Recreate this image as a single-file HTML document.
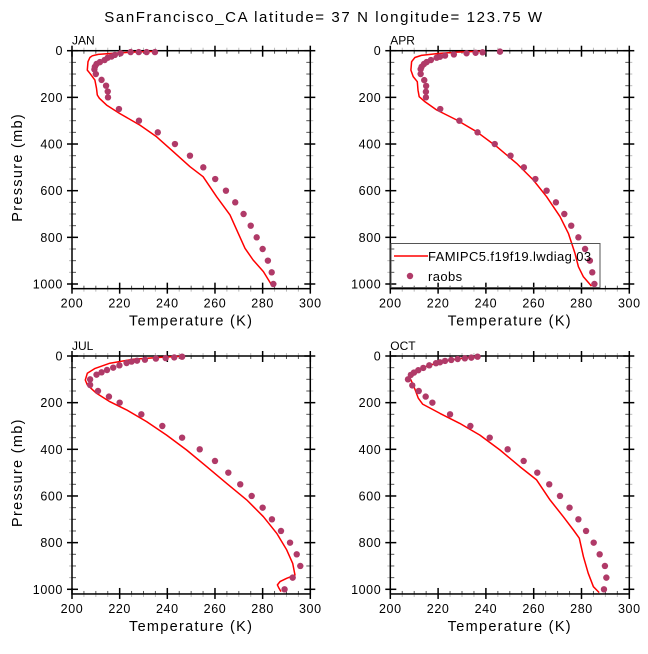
<!DOCTYPE html>
<html><head><meta charset="utf-8"><style>
html,body{margin:0;padding:0;background:#fff;}
svg text{font-family:"Liberation Sans","DejaVu Sans",sans-serif;fill:#000;}
</style></head><body>
<svg id="fig" width="648" height="649" viewBox="0 0 648 649" xmlns="http://www.w3.org/2000/svg">
<text x="324" y="22" text-anchor="middle" font-size="15" letter-spacing="1.6">SanFrancisco_CA  latitude= 37 N longitude= 123.75 W</text>
</svg>
<script>
const xTicks = [200, 220, 240, 260, 280, 300];
const yTicks = [0, 200, 400, 600, 800, 1000];
const months = ["JAN", "APR", "JUL", "OCT"];
const seriesNames = ["FAMIPC5.f19f19.lwdiag.03", "raobs"];

const janObsP = [6,6,6,6,11,18,25,30,40,49,57,69,80,100,125,150,175,200,250,300,350,400,450,500,550,600,650,700,750,800,850,900,950,1000];
const janObsT = [234.8,231.3,228,224.6,220.4,218,216.6,215,213.7,211.7,210.3,209.6,209.4,210,212.4,214.3,215,215.1,219.7,228.1,236,243.2,249.5,255.1,260.1,264.6,268.5,272,275,277.5,280,282.2,283.8,284.5];
const janModP = [3,5,8,12,16,22,29,47,83,97,126,161,190,204,233,269,319,369,433,497,540,626,704,783,847,897,947,1011];
const janModT = [235,228,222,216,211,208.5,207.5,206.7,206.4,207.5,209.6,210.3,210.6,211.5,214.5,220,228.5,235.5,242.5,249.5,255,260.7,266.3,269.8,272.6,276,280.3,284.2];

const aprObsP = [4,7,9,11,16,21,26,30,40,49,57,69,79,100,126,151,176,200,250,300,350,400,450,500,550,600,650,700,750,800,850,900,950,1000];
const aprObsT = [245.9,238.6,235.7,231.9,226.6,222.9,220.8,219.4,217,215.2,214.1,213.1,212.7,212.7,214.2,215,214.9,214.9,220.9,228.9,236.5,243.7,250.3,255.9,260.7,265.4,269.3,272.8,275.7,278.7,281.5,283.5,284.5,285.4];
const aprModP = [2,6,12,20,29,47,83,111,133,169,197,219,254,297,347,411,483,554,626,711,783,869,926,969,1009];
const aprModT = [238,228,220,213,210.3,208.9,208.6,209.6,211.3,211.6,212.1,214.5,219.4,227.8,236.1,244.5,252.9,259.8,265.4,271,274.5,277.3,278.7,280.8,284.2];

const julObsP = [3,6,9,11,16,20,24,30,40,50,60,70,80,100,124,150,174,200,250,300,350,400,450,500,550,600,650,700,750,800,850,900,950,1000];
const julObsT = [246.2,242.9,239.3,235.2,230.6,227.3,225,222.9,219.9,217.3,214.7,212.4,210.3,207.6,207.6,210.9,215.5,220,229.1,237.9,246.2,253.6,260,265.6,270.6,275.4,280,283.9,287.7,291.5,294.3,295.8,292.6,289.2];
const julModP = [1,6,14,31,53,74,103,124,160,196,231,281,339,403,474,546,617,689,760,831,889,939,953,967,981,996,1010];
const julModT = [246,236.9,225.7,215.9,209.7,206.4,205.6,206.4,210.3,215.9,222.9,231.3,239.7,248.1,256.5,264.9,273.3,280.3,285.9,290.1,292.6,293.6,290.1,287.3,286.2,286.9,287.7];

const octObsP = [3,7,10,13,17,21,27,31,40,51,61,71,81,100,126,150,174,200,250,300,350,400,450,500,550,600,650,700,750,800,850,900,950,1000];
const octObsT = [236.5,233.9,231.2,228.2,225.5,222.9,220.8,219.1,216.3,213.8,211.7,209.9,208.6,207.4,209.2,211.9,214.8,217.6,225,233.5,241.6,249.1,255.8,261.5,266.5,271,275,278.7,281.9,285.1,287.6,289.8,290.4,289.4];
const octModP = [3,9,20,39,60,74,93,124,153,181,206,246,289,339,403,474,531,617,689,746,781,860,931,989,1014];
const octModT = [235.4,230.5,223.6,216.6,211,208.9,208.2,209.6,210.7,211.7,213.5,220.8,229.1,237.5,245.9,254.2,261.2,266.8,272.4,276.6,279.1,280.8,282.8,285,287.4];

const obsP = [janObsP, aprObsP, julObsP, octObsP];
const obsT = [janObsT, aprObsT, julObsT, octObsT];
const modP = [janModP, aprModP, julModP, octModP];
const modT = [janModT, aprModT, julModT, octModT];

const NS = "http://www.w3.org/2000/svg";
const svg = document.getElementById("fig");
const panels = [
  {x0:72, x1:310.3, y0:50.7, y1:284, ylab:true},
  {x0:390.3, x1:629.3, y0:50.7, y1:284, ylab:false},
  {x0:72, x1:310.3, y0:356, y1:589.3, ylab:true},
  {x0:390.3, x1:629.3, y0:356, y1:589.3, ylab:false}
];
function mk(tag, attrs, parent){
  const e = document.createElementNS(NS, tag);
  for (const k in attrs) e.setAttribute(k, attrs[k]);
  (parent || svg).appendChild(e);
  return e;
}
panels.forEach((pn, i) => {
  const xS = t => pn.x0 + (t - 200) / 100 * (pn.x1 - pn.x0);
  const yS = p => pn.y0 + p / 1000 * (pn.y1 - pn.y0);
  const g = mk("g", {});
  
  
  const bottom = yS(1020);
  for (let p = 50; p < 1020; p += 50) {
    if (p % 200 === 0) continue;
    mk("line", {x1:pn.x0, x2:pn.x0+4, y1:yS(p), y2:yS(p), stroke:"#555", "stroke-width":1}, g);
    mk("line", {x1:pn.x1, x2:pn.x1-4, y1:yS(p), y2:yS(p), stroke:"#555", "stroke-width":1}, g);
    mk("line", {x1:pn.x0, x2:pn.x0-3, y1:yS(p), y2:yS(p), stroke:"#bbb", "stroke-width":1}, g);
    mk("line", {x1:pn.x1, x2:pn.x1+3, y1:yS(p), y2:yS(p), stroke:"#bbb", "stroke-width":1}, g);
  }
  for (let t = 205; t < 300; t += 5) {
    if (t % 20 === 0) continue;
    mk("line", {x1:xS(t), x2:xS(t), y1:pn.y0, y2:pn.y0+3, stroke:"#555", "stroke-width":1}, g);
    mk("line", {x1:xS(t), x2:xS(t), y1:bottom, y2:bottom-3, stroke:"#555", "stroke-width":1}, g);
    mk("line", {x1:xS(t), x2:xS(t), y1:pn.y0, y2:pn.y0-3, stroke:"#bbb", "stroke-width":1}, g);
    mk("line", {x1:xS(t), x2:xS(t), y1:bottom, y2:bottom+3, stroke:"#bbb", "stroke-width":1}, g);
  }
  const box = mk("rect", {x:pn.x0, y:pn.y0, width:pn.x1-pn.x0, height:bottom-pn.y0, fill:"none", stroke:"#000", "stroke-width":1.5}, g);
  
  
  yTicks.forEach(p => {
    mk("line", {x1:pn.x0-5, x2:pn.x0+6, y1:yS(p), y2:yS(p), stroke:"#000", "stroke-width":1.5}, g);
    mk("line", {x1:pn.x1-6, x2:pn.x1+5, y1:yS(p), y2:yS(p), stroke:"#000", "stroke-width":1.5}, g);
    const tl = mk("text", {x:pn.x0-9, y:yS(p)+4.5, "text-anchor":"end", "font-size":12.5, "letter-spacing":"0.6"}, g);
    tl.textContent = p;
    
    
  });
  xTicks.forEach(t => {
    mk("line", {x1:xS(t), x2:xS(t), y1:pn.y0-5, y2:pn.y0+6, stroke:"#000", "stroke-width":1.5}, g);
    mk("line", {x1:xS(t), x2:xS(t), y1:bottom-6, y2:bottom+5, stroke:"#000", "stroke-width":1.5}, g);
    const tl = mk("text", {x:xS(t), y:bottom+19, "text-anchor":"middle", "font-size":12.5, "letter-spacing":"0.6"}, g);
    tl.textContent = t;
    
    
  });
  const xt = mk("text", {x:(pn.x0+pn.x1)/2, y:bottom+37, "text-anchor":"middle", "font-size":14.5, "letter-spacing":"1.3"}, g);
  xt.textContent = "Temperature (K)";
  
  
  if (pn.ylab) {
    const cy = (pn.y0 + pn.y1) / 2;
    const yt = mk("text", {x:22, y:cy, "text-anchor":"middle", "font-size":14.5, "letter-spacing":"1.3", transform:"rotate(-90 22 "+cy+")"}, g);
    yt.textContent = "Pressure (mb)";
    
    
  }
  const ml = mk("text", {x:pn.x0, y:pn.y0-6, "font-size":12}, g);
  ml.textContent = months[i];
  
  
  const pts = modP[i].map((p, k) => xS(modT[i][k]).toFixed(1) + "," + yS(p).toFixed(1)).join(" ");
  const pl = mk("polyline", {points:pts, fill:"none", stroke:"#ff0000", "stroke-width":1.5, "stroke-linejoin":"round"}, g);
  
  
  obsP[i].forEach((p, k) => {
    const c = mk("circle", {cx:xS(obsT[i][k]), cy:yS(p), r:3.2, fill:"#b03a68"}, g);
    
    
  });
});
const lg = mk("g", {});


mk("rect", {x:391, y:243.5, width:209, height:44, fill:"none", stroke:"#555", "stroke-width":1}, lg);
mk("line", {x1:394, x2:428, y1:256, y2:256, stroke:"#ff0000", "stroke-width":1.5}, lg);
const l1 = mk("text", {x:428, y:261, "font-size":13, "letter-spacing":"0.4"}, lg);
l1.textContent = seriesNames[0];


mk("circle", {cx:410, cy:276, r:3.2, fill:"#b03a68"}, lg);
const l2 = mk("text", {x:428, y:281, "font-size":13, "letter-spacing":"0.4"}, lg);
l2.textContent = seriesNames[1];


</script>
</body></html>
